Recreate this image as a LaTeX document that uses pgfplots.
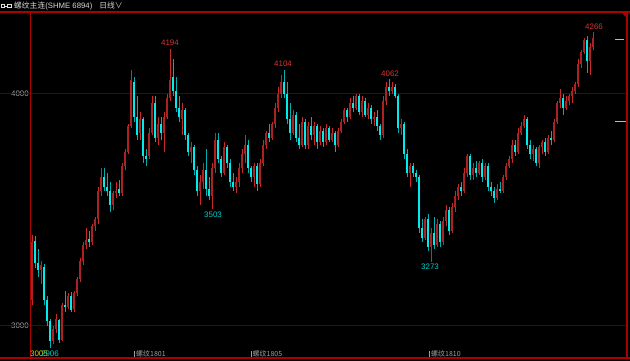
\documentclass[border=0pt]{standalone}
\usepackage{fontspec}
\setmainfont{Liberation Sans}
\newfontfamily\cjk{Noto Sans CJK SC}
\usepackage{pgfplots}
\usepackage{pgfplotstable}
\pgfplotsset{compat=1.18}
\definecolor{upw}{RGB}{200,42,42}
\definecolor{upb}{RGB}{172,34,34}
\definecolor{dnw}{RGB}{0,175,175}
\definecolor{dnb}{RGB}{0,235,235}
\definecolor{framer}{RGB}{170,0,0}
\definecolor{gridr}{RGB}{90,0,0}
\definecolor{lblred}{RGB}{220,50,50}
\definecolor{lblcyan}{RGB}{0,205,205}
\definecolor{tickg}{RGB}{160,160,160}
\definecolor{yel}{RGB}{210,210,0}
\definecolor{hdr}{RGB}{215,215,215}

\pgfplotstableread{
x o h l c
32 3110 3390 3090 3360
35 3365 3385 3250 3270
38 3270 3330 3210 3240
41 3240 3280 3180 3260
44 3255 3265 3090 3110
47 3110 3130 3000 3020
50 3020 3030 2906 2935
53 2935 3000 2920 2985
56 2985 3050 2970 3030
59 3025 3030 2925 2940
62 2940 3100 2935 3090
65 3090 3150 3060 3080
68 3080 3140 3070 3130
71 3130 3145 3060 3070
74 3070 3150 3060 3140
77 3140 3210 3130 3200
80 3200 3290 3190 3280
83 3280 3360 3260 3350
86 3350 3420 3330 3370
89 3375 3410 3340 3360
92 3360 3440 3350 3430
95 3430 3470 3410 3460
98 3460 3600 3440 3580
101 3580 3680 3560 3640
104 3640 3680 3580 3600
107 3600 3660 3560 3580
110 3580 3620 3490 3520
113 3520 3580 3500 3570
116 3570 3620 3550 3580
119 3590 3630 3560 3570
122 3570 3700 3560 3690
125 3690 3760 3670 3750
128 3750 3870 3740 3860
131 3860 4100 3850 4060
134 4050 4070 3880 3900
137 3900 3990 3800 3820
140 3830 3920 3800 3890
143 3890 3900 3700 3730
146 3730 3760 3690 3720
149 3730 3850 3720 3830
152 3830 3990 3820 3960
155 3960 3990 3790 3810
158 3810 3900 3780 3870
161 3870 3900 3800 3830
164 3830 3920 3750 3900
167 3900 4000 3890 3980
170 3980 4194 3970 4060
173 4070 4150 3990 4010
176 4010 4070 3920 3940
179 3940 3990 3880 3900
182 3890 3960 3820 3930
185 3930 3940 3800 3820
188 3820 3830 3730 3750
191 3750 3790 3700 3770
194 3770 3780 3650 3670
197 3670 3690 3560 3580
200 3580 3650 3520 3620
203 3620 3700 3590 3670
206 3670 3760 3560 3590
209 3590 3640 3540 3560
212 3560 3700 3503 3680
215 3680 3830 3660 3800
218 3800 3830 3700 3720
221 3720 3730 3640 3660
224 3660 3790 3650 3770
227 3770 3780 3680 3700
230 3700 3720 3600 3620
233 3620 3660 3580 3600
236 3600 3640 3570 3620
239 3620 3700 3600 3680
242 3680 3760 3660 3740
245 3740 3820 3700 3780
248 3780 3800 3660 3680
251 3680 3690 3620 3640
254 3640 3700 3600 3690
257 3690 3700 3580 3610
260 3610 3720 3600 3700
263 3700 3800 3690 3780
266 3780 3840 3760 3830
269 3830 3870 3790 3810
272 3810 3880 3800 3870
275 3870 3960 3850 3940
278 3940 4030 3920 4000
281 4000 4080 3980 4050
284 4050 4104 3980 4000
287 4000 4050 3870 3890
290 3890 3960 3800 3830
293 3830 3930 3820 3910
296 3910 3920 3790 3810
299 3810 3870 3760 3780
302 3780 3900 3770 3880
305 3880 3890 3760 3780
308 3780 3880 3760 3860
311 3860 3900 3800 3820
314 3820 3880 3780 3860
317 3860 3870 3760 3790
320 3790 3860 3780 3840
323 3840 3850 3770 3790
326 3790 3870 3780 3850
329 3850 3860 3790 3800
332 3800 3850 3790 3830
335 3830 3840 3750 3780
338 3780 3850 3770 3840
341 3840 3890 3830 3880
344 3880 3940 3870 3930
347 3930 3940 3880 3900
350 3900 3980 3890 3960
353 3960 3990 3920 3940
356 3940 4000 3930 3990
359 3990 4000 3910 3920
362 3920 3990 3900 3970
365 3970 3980 3900 3910
368 3910 3960 3890 3940
371 3940 3950 3870 3890
374 3890 3920 3860 3900
377 3900 3930 3840 3860
380 3860 3870 3800 3820
383 3820 3990 3810 3970
386 3970 4050 3950 4030
389 4030 4062 3990 4010
392 4010 4050 4000 4030
395 4030 4040 3980 3990
398 3990 4000 3830 3850
401 3850 3890 3820 3870
404 3870 3880 3720 3740
407 3740 3760 3640 3660
410 3660 3700 3600 3690
413 3690 3700 3640 3660
416 3660 3670 3620 3640
419 3640 3650 3400 3420
422 3420 3460 3360 3380
425 3380 3470 3370 3460
428 3460 3480 3320 3340
431 3340 3420 3273 3400
434 3400 3470 3330 3350
437 3350 3460 3340 3440
440 3440 3450 3340 3360
443 3360 3470 3350 3450
446 3450 3520 3430 3500
449 3500 3510 3390 3410
452 3410 3530 3400 3510
455 3510 3580 3490 3560
458 3560 3610 3540 3600
461 3600 3620 3560 3580
464 3580 3680 3570 3660
467 3660 3740 3640 3730
470 3730 3740 3630 3650
473 3650 3700 3630 3680
476 3680 3710 3640 3660
479 3660 3710 3650 3700
482 3700 3720 3620 3640
485 3640 3700 3630 3690
488 3690 3700 3580 3600
491 3600 3620 3560 3580
494 3580 3600 3530 3550
497 3550 3610 3540 3590
500 3590 3620 3570 3580
503 3580 3650 3570 3640
506 3640 3700 3630 3690
509 3690 3730 3680 3720
512 3720 3800 3700 3780
515 3780 3800 3730 3750
518 3750 3850 3740 3830
521 3830 3880 3820 3860
524 3860 3910 3850 3890
527 3890 3900 3760 3780
530 3780 3800 3720 3740
533 3740 3780 3710 3760
536 3760 3770 3690 3700
539 3700 3780 3680 3770
542 3770 3800 3740 3790
545 3790 3810 3730 3750
548 3750 3820 3740 3810
551 3810 3840 3780 3800
554 3800 3890 3790 3880
557 3880 3970 3870 3960
560 3960 4020 3940 3980
563 3980 4000 3910 3940
566 3940 3990 3930 3970
569 3970 4000 3950 3990
572 3990 4030 3960 4010
575 4010 4050 4000 4040
578 4040 4150 4030 4130
581 4130 4190 4110 4180
584 4180 4240 4170 4230
587 4230 4250 4090 4140
590 4140 4220 4080 4200
593 4200 4266 4190 4240
}\kdata

\begin{document}
\begin{tikzpicture}
\useasboundingbox (0,0) rectangle (630bp,361bp);
\fill[black] (0,0) rectangle (630bp,361bp);
% header
\draw[hdr!80, line width=0.6bp] (1bp,353.5bp) rectangle (4.5bp,356.5bp);
\draw[hdr!80, line width=0.6bp] (7.5bp,353.5bp) rectangle (11bp,356.5bp);
\draw[hdr!80, line width=0.6bp] (4.5bp,355bp) -- (7.5bp,355bp);
\node[anchor=west, inner sep=0pt, text=hdr, font=\fontsize{7.8}{8}\selectfont] at (14bp,355bp)
  {{\cjk 螺纹主连}(SHME 6894)\hspace{7bp}{\cjk 日线∨}};
\begin{axis}[at={(31bp,3bp)}, anchor=south west, scale only axis,
  width=596bp, height=346bp,
  xmin=31, xmax=627, ymin=2861, ymax=4352,
  axis line style={draw=none}, xtick=\empty,
  ytick={3000,4000}, yticklabels={3000,4000},
  major tick length=0pt,
  yticklabel style={font=\fontsize{8}{9}\selectfont, text=tickg, inner sep=0pt, anchor=east, xshift=-2bp},
  clip=false]
\draw[gridr, line width=0.8bp] (axis cs:0,4000) -- (axis cs:627,4000);
\draw[gridr, line width=0.8bp] (axis cs:0,3000) -- (axis cs:627,3000);
% wicks
\addplot[draw=none, mark=none, forget plot,
  restrict expr to domain={\thisrow{c}-\thisrow{o}}{0:100000},
  error bars/.cd, y dir=both, y explicit, error mark=none,
  error bar style={draw=upw, line width=1bp}]
  table[x=x, y expr={(\thisrow{h}+\thisrow{l})/2}, y error expr={(\thisrow{h}-\thisrow{l})/2}] {\kdata};
\addplot[draw=none, mark=none, forget plot,
  restrict expr to domain={\thisrow{c}-\thisrow{o}}{-100000:-0.5},
  error bars/.cd, y dir=both, y explicit, error mark=none,
  error bar style={draw=dnw, line width=1bp}]
  table[x=x, y expr={(\thisrow{h}+\thisrow{l})/2}, y error expr={(\thisrow{h}-\thisrow{l})/2}] {\kdata};
% bodies
\addplot[draw=none, mark=none, forget plot,
  restrict expr to domain={\thisrow{c}-\thisrow{o}}{0:100000},
  error bars/.cd, y dir=both, y explicit, error mark=none,
  error bar style={draw=upb, line width=2.7bp}]
  table[x=x, y expr={(\thisrow{o}+\thisrow{c})/2}, y error expr={max(abs(\thisrow{c}-\thisrow{o})/2,3)}] {\kdata};
\addplot[draw=none, mark=none, forget plot,
  restrict expr to domain={\thisrow{c}-\thisrow{o}}{-100000:-0.5},
  error bars/.cd, y dir=both, y explicit, error mark=none,
  error bar style={draw=dnb, line width=2.5bp}]
  table[x=x, y expr={(\thisrow{o}+\thisrow{c})/2}, y error expr={max(abs(\thisrow{c}-\thisrow{o})/2,3)}] {\kdata};
% frame
\draw[framer, line width=1.1bp] (axis cs:0,4352) -- (axis cs:630,4352);
\draw[framer, line width=1.1bp] (axis cs:0,2861) -- (axis cs:630,2861);
\draw[framer, line width=1.1bp] (axis cs:30.7,2861) -- (axis cs:30.7,4352);
\draw[framer, line width=1.1bp] (axis cs:627,2861) -- (axis cs:627,4352);
\fill[framer] (axis cs:621,4352) -- (axis cs:627,4352) -- (axis cs:627,4326) -- cycle;
\draw[yel, line width=0.9bp] (axis cs:615,4233) -- (axis cs:624,4233);
\draw[yel, line width=0.9bp] (axis cs:615,3879) -- (axis cs:626,3879);
% peak/trough labels
\node[text=lblred, inner sep=0pt, font=\fontsize{8}{9}\selectfont] at (axis cs:170,4220) {4194};
\node[text=lblred, inner sep=0pt, font=\fontsize{8}{9}\selectfont] at (axis cs:283,4129) {4104};
\node[text=lblred, inner sep=0pt, font=\fontsize{8}{9}\selectfont] at (axis cs:390,4087) {4062};
\node[text=lblred, inner sep=0pt, font=\fontsize{8}{9}\selectfont] at (axis cs:594,4290) {4266};
\node[text=lblcyan, inner sep=0pt, font=\fontsize{8}{9}\selectfont] at (axis cs:213,3478) {3503};
\node[text=lblcyan, inner sep=0pt, font=\fontsize{8}{9}\selectfont] at (axis cs:430,3254) {3273};
\node[text=yel, inner sep=0pt, font=\fontsize{8}{9}\selectfont] at (axis cs:39,2879) {3005};
\node[text=lblcyan, inner sep=0pt, font=\fontsize{8}{9}\selectfont] at (axis cs:50,2879) {2906};
% contract labels
\draw[tickg, line width=0.6bp] (axis cs:134.5,2865) -- (axis cs:134.5,2893);
\node[anchor=west, inner sep=0pt, text=tickg, font=\cjk\fontsize{7}{8}\selectfont] at (axis cs:136,2879) {螺纹1801};
\draw[tickg, line width=0.6bp] (axis cs:251,2865) -- (axis cs:251,2893);
\node[anchor=west, inner sep=0pt, text=tickg, font=\cjk\fontsize{7}{8}\selectfont] at (axis cs:252.5,2879) {螺纹1805};
\draw[tickg, line width=0.6bp] (axis cs:429.5,2865) -- (axis cs:429.5,2893);
\node[anchor=west, inner sep=0pt, text=tickg, font=\cjk\fontsize{7}{8}\selectfont] at (axis cs:431,2879) {螺纹1810};
\end{axis}
\end{tikzpicture}
\end{document}
